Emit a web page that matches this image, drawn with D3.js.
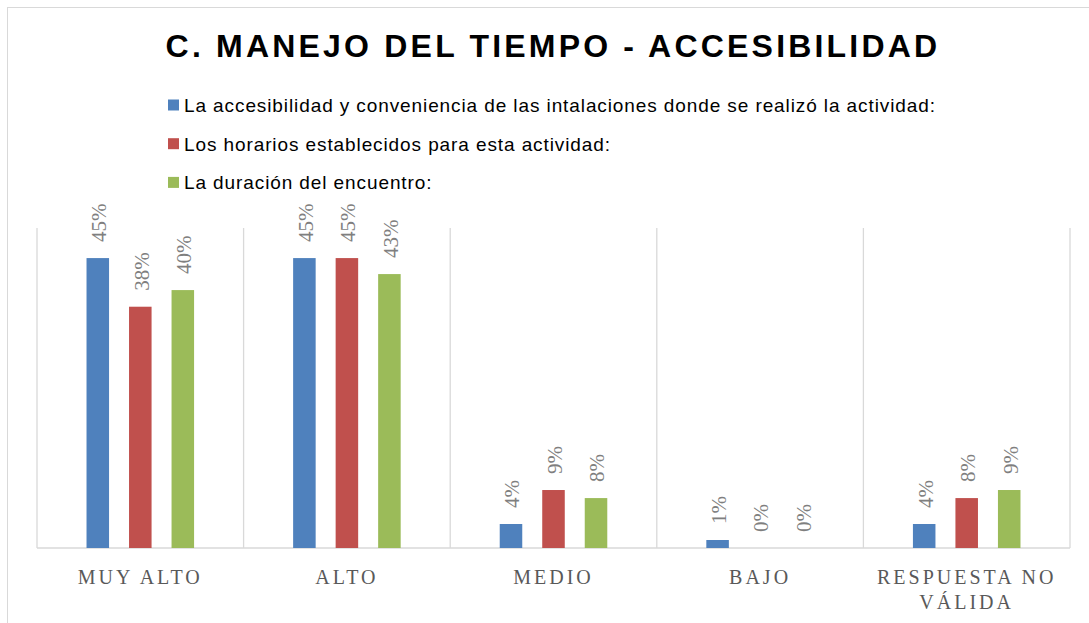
<!DOCTYPE html>
<html>
<head>
<meta charset="utf-8">
<script src="https://cdn.jsdelivr.net/npm/d3@7"></script>
<style>
  body { margin: 0; background: #fff; }
  svg { display: block; }
</style>
</head>
<body>
<script>
// values (fractions, labels shown rounded)
const categories = ['MUY ALTO', 'ALTO', 'MEDIO', 'BAJO', 'RESPUESTA NO VÁLIDA'];
const seriesNames = [
  'La accesibilidad y conveniencia de las intalaciones donde se realizó la actividad:',
  'Los horarios establecidos para esta actividad:',
  'La duración del encuentro:'
];
const accesibilidad = [0.453, 0.453, 0.0375, 0.0125, 0.0375];
const horarios = [0.377, 0.453, 0.0906, 0, 0.078];
const duracion = [0.403, 0.428, 0.078, 0, 0.0906];
const colors = ['#4f81bd', '#c0504d', '#9bbb59'];

const width = 1089, height = 623;
const margin = {top: 228, bottom: 75, left: 37, right: 19};

const svg = d3.select('body').append('svg')
  .attr('width', width)
  .attr('height', height);

// chart frame (only top/left edges visible)
svg.append('rect')
  .attr('x', 7.5).attr('y', 7.5)
  .attr('width', width + 20).attr('height', height + 20)
  .attr('fill', 'none')
  .attr('stroke', '#d9d9d9');

const series = [accesibilidad, horarios, duracion];
const rows = categories.map((c, i) => ({
  cat: c,
  vals: series.map((s, j) => ({key: j, value: s[i]}))
}));

const x0 = d3.scaleBand()
  .domain(categories)
  .range([margin.left, width - margin.right]);

const x1 = d3.scaleBand()
  .domain([0, 1, 2])
  .range([0, x0.bandwidth()])
  .paddingInner(0.47)
  .paddingOuter(1.165);

const y = d3.scaleLinear()
  .domain([0, 0.5])
  .range([height - margin.bottom, margin.top]);

// vertical gridlines between categories
const gridX = categories.map((c) => x0(c)).concat([x0.range()[1]]);
svg.append('g').selectAll('line')
  .data(gridX)
  .join('line')
  .attr('x1', (d) => d).attr('x2', (d) => d)
  .attr('y1', y(0.5)).attr('y2', y(0))
  .attr('stroke', '#d9d9d9')
  .attr('stroke-width', 1.3);

// baseline
svg.append('line')
  .attr('x1', x0.range()[0]).attr('x2', x0.range()[1])
  .attr('y1', y(0)).attr('y2', y(0))
  .attr('stroke', '#d9d9d9')
  .attr('stroke-width', 1.6);

const group = svg.append('g').selectAll('g')
  .data(rows)
  .join('g')
  .attr('transform', (d) => `translate(${x0(d.cat)},0)`);

group.selectAll('rect')
  .data((d) => d.vals)
  .join('rect')
  .attr('x', (d) => x1(d.key))
  .attr('y', (d) => y(d.value))
  .attr('width', x1.bandwidth())
  .attr('height', (d) => y(0) - y(d.value))
  .attr('fill', (d) => colors[d.key]);

// rotated value labels
group.selectAll('text')
  .data((d) => d.vals)
  .join('text')
  .attr('transform', (d) => `translate(${x1(d.key) + x1.bandwidth() / 2 + 1},${y(d.value) - 16}) rotate(-90)`)
  .attr('dy', '0.35em')
  .style('font-family', '"Liberation Serif", "DejaVu Serif", serif')
  .style('font-size', '21px')
  .style('fill', '#7f7f7f')
  .text((d) => d3.format('.0%')(d.value));

// category labels
const xLabels = svg.append('g').selectAll('text')
  .data(categories)
  .join('text')
  .attr('x', (d) => x0(d) + x0.bandwidth() / 2)
  .attr('y', 584)
  .attr('text-anchor', 'middle')
  .style('font-family', '"Liberation Serif", "DejaVu Serif", serif')
  .style('font-size', '20px')
  .style('letter-spacing', '3px')
  .style('fill', '#595959');

xLabels.each(function(d) {
  const lines = d === 'RESPUESTA NO VÁLIDA' ? ['RESPUESTA NO', 'VÁLIDA'] : [d];
  d3.select(this).selectAll('tspan')
    .data(lines)
    .join('tspan')
    .attr('x', x0(d) + x0.bandwidth() / 2)
    .attr('dy', (l, i) => i === 0 ? 0 : 25)
    .text((l) => l);
});

// title
svg.append('text')
  .attr('x', 553)
  .attr('y', 57)
  .attr('text-anchor', 'middle')
  .style('font-family', '"Liberation Sans", Arial, sans-serif')
  .style('font-weight', 'bold')
  .style('font-size', '32px')
  .style('letter-spacing', '3.2px')
  .style('fill', '#000')
  .text('C. MANEJO DEL TIEMPO - ACCESIBILIDAD');

// legend
const legend = svg.append('g').selectAll('g')
  .data(seriesNames)
  .join('g')
  .attr('transform', (d, i) => `translate(168,${112 + i * 38.7})`);

legend.append('rect')
  .attr('x', 0).attr('y', -12.5)
  .attr('width', 11).attr('height', 11)
  .attr('fill', (d, i) => colors[i]);

legend.append('text')
  .attr('x', 16)
  .attr('y', 0)
  .style('font-family', '"Liberation Sans", Arial, sans-serif')
  .style('font-size', '19px')
  .style('letter-spacing', '0.9px')
  .style('fill', '#000')
  .text((d) => d);
</script>
</body>
</html>
